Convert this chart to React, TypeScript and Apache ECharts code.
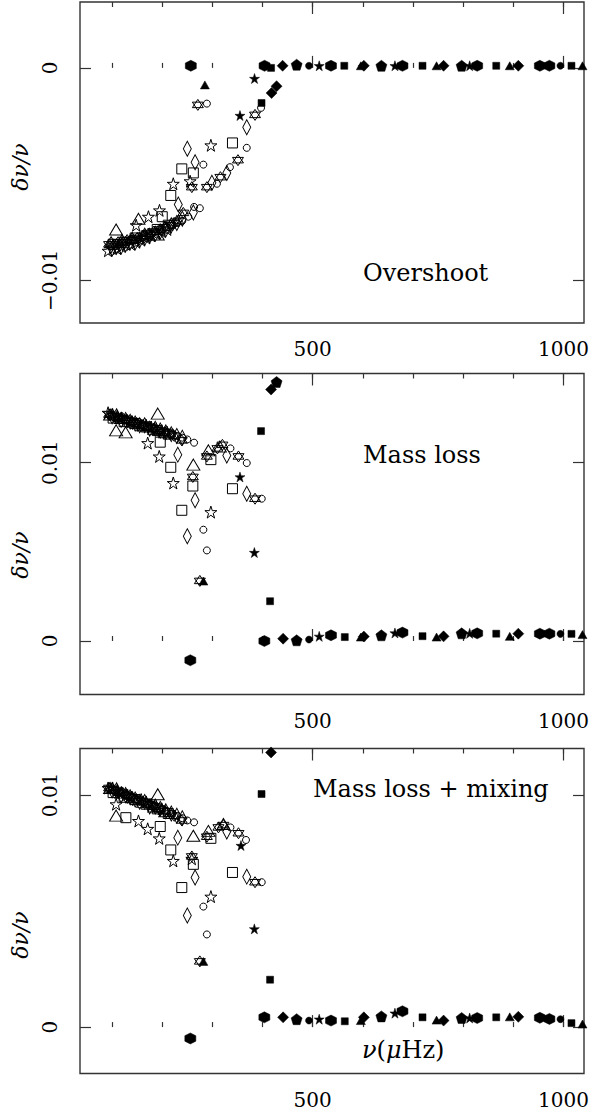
import React, { useEffect, useRef } from 'react';
import * as echarts from 'echarts';

// ---------- axis ticks / labels ----------
const X_MIN = 36;
const X_MAX = 1041;
const X_MINOR_TICKS = [100, 200, 300, 400, 500, 600, 700, 800, 900, 1000];
const X_MAJOR_TICKS = [500, 1000];
const Y_RANGES = [[-0.012, 0.0031], [-0.003, 0.015], [-0.002, 0.012]];
const Y_TICKS = [[-0.01, 0], [0, 0.01], [0, 0.01]];
const PANEL_LABELS = ['Overshoot', 'Mass loss', 'Mass loss + mixing'];

// ---------- Panel 1 : Overshoot ----------
const P1_OPEN_TRIANGLE = [[108, -0.0076], [152.6, -0.0071], [191, -0.00784], [98, -0.0082], [120, -0.0081], [140, -0.008], [165, -0.0078], [205, -0.0075]];
const P1_OPEN_CIRCLE = [[289, -0.00168], [397, -0.00188], [368.5, -0.00376], [282, -0.00455], [335, -0.00467], [309, -0.00545], [263.5, -0.00654], [96, -0.0084], [114, -0.0083], [132, -0.0082], [150, -0.0081], [170, -0.0079], [190, -0.0077], [210, -0.0075], [230, -0.0073], [252, -0.007], [275, -0.0066], [105, -0.0084], [123, -0.0083], [141, -0.0081], [160, -0.008], [180, -0.0078], [200, -0.0076], [220, -0.0074], [240, -0.0072]];
const P1_OPEN_SQUARE = [[340, -0.00353], [239, -0.00475], [262, -0.00494], [217, -0.006], [102, -0.0083], [124, -0.0082], [146, -0.008], [168, -0.0079], [190, -0.0076], [212, -0.0074], [200, -0.007]];
const P1_OPEN_DIAMOND = [[250, -0.0038], [368.5, -0.00279], [265.5, -0.00444], [328.7, -0.00494], [299, -0.0054], [232, -0.00643], [100, -0.0085], [118, -0.0084], [136, -0.0082], [155, -0.0081], [175, -0.0079], [196, -0.0077], [218, -0.0074], [240, -0.0071], [262, -0.0068], [109, -0.0084], [127, -0.0083], [146, -0.0082], [165, -0.008], [186, -0.0078], [207, -0.0076], [229, -0.0073]];
const P1_OPEN_STAR = [[297, -0.00364], [222, -0.00545], [255.6, -0.00533], [194.5, -0.0067], [172.5, -0.007], [92, -0.0086], [110, -0.0085], [128, -0.0083], [148, -0.0082], [168, -0.008], [188, -0.0078], [210, -0.0076], [148, -0.0074], [101, -0.0085], [119, -0.0084], [138, -0.0083], [158, -0.0081], [178, -0.0079], [199, -0.0077]];
const P1_HEXAGRAM = [[271, -0.00174], [385, -0.00221], [351, -0.00434], [259, -0.00561], [289, -0.00561], [316, -0.00514], [242, -0.00682], [94, -0.0083], [112, -0.0082], [130, -0.0081], [150, -0.008], [172, -0.0078], [194, -0.0076], [216, -0.0074], [232, -0.0072], [103, -0.0083], [121, -0.0082], [140, -0.0081], [161, -0.0079], [183, -0.0077], [205, -0.0075], [224, -0.0073]];
const P1_FILLED_HEXAGON = [[257, 0.0001], [404, 0.0001], [536.5, 0.0001], [679, 0.0001], [828, 0.0001], [953, 0.0001], [972, 0.0001]];
const P1_FILLED_TRIANGLE = [[285, -0.0008], [596, 0.0001], [747, 0.0001], [893, 0.0001], [1038, 0.0001]];
const P1_FILLED_STAR = [[384, -0.0005], [355, -0.00224], [513, 0.0001], [664, 0.0001], [813, 0.0001]];
const P1_FILLED_SQUARE = [[398, -0.00165], [417, 0.0], [563, 0.0001], [719, 0.0001], [866, 0.0001], [1016, 0.0001]];
const P1_FILLED_DIAMOND = [[418, -0.00118], [428, -0.00086], [440, 0.0001], [602, 0.0001], [761, 0.0001], [910, 0.0001]];
const P1_FILLED_PENTAGON = [[468, 0.00015], [637, 0.0001], [797, 0.0001]];
const P1_FILLED_CIRCLE = [[492.6, 0.0001], [994, 0.0001]];

// ---------- Panel 2 : Mass loss ----------
const P2_OPEN_TRIANGLE = [[191, 0.01275], [108, 0.01181], [127, 0.0117], [262, 0.00989], [292, 0.01069], [315, 0.0109], [96, 0.0127], [118, 0.0125], [140, 0.0123], [162, 0.0121], [184, 0.0119], [206, 0.0117]];
const P2_OPEN_CIRCLE = [[263.5, 0.01112], [282, 0.00624], [289, 0.00508], [336, 0.0108], [368.5, 0.00998], [398.4, 0.00798], [96, 0.0126], [114, 0.0125], [132, 0.0123], [150, 0.0122], [170, 0.012], [190, 0.0118], [210, 0.0117], [230, 0.0115], [250, 0.0113], [105, 0.0125], [123, 0.0124], [141, 0.0122], [160, 0.0121], [180, 0.0119], [200, 0.0117], [220, 0.0116], [240, 0.0114]];
const P2_OPEN_SQUARE = [[196, 0.01115], [217, 0.00974], [261, 0.00869], [239, 0.00733], [297, 0.01017], [340, 0.00854], [102, 0.0125], [124, 0.0123], [146, 0.0122], [168, 0.012], [190, 0.0118], [212, 0.0116]];
const P2_OPEN_DIAMOND = [[231, 0.01045], [265.5, 0.00789], [250, 0.00587], [328.7, 0.0104], [368.5, 0.00826], [100, 0.0126], [118, 0.0124], [136, 0.0123], [155, 0.0121], [175, 0.0119], [196, 0.0118], [218, 0.0116], [240, 0.0114], [109, 0.0126], [127, 0.0124], [146, 0.0122], [165, 0.0121], [186, 0.0119], [207, 0.0117], [229, 0.0115]];
const P2_OPEN_STAR = [[171, 0.0111], [194, 0.01035], [222, 0.00886], [297, 0.00723], [92, 0.0128], [110, 0.0126], [128, 0.0124], [148, 0.0122], [168, 0.0121], [188, 0.0119], [210, 0.0117], [101, 0.0127], [119, 0.0125], [138, 0.0123], [158, 0.0121], [178, 0.012], [199, 0.0118]];
const P2_HEXAGRAM = [[239, 0.01125], [261, 0.0092], [275, 0.00337], [289, 0.01035], [310, 0.0108], [320, 0.011], [352, 0.01035], [385, 0.00798], [94, 0.0127], [112, 0.0125], [130, 0.0124], [150, 0.0122], [172, 0.012], [194, 0.0118], [216, 0.0116], [103, 0.0126], [121, 0.0125], [140, 0.0123], [161, 0.0121], [183, 0.0119], [205, 0.0117], [224, 0.0115]];
const P2_FILLED_HEXAGON = [[256, -0.00108], [403.6, 0.0], [536.5, 0.00032], [679, 0.00047], [828, 0.00043], [953, 0.00041], [972, 0.00041]];
const P2_FILLED_TRIANGLE = [[282, 0.00336], [596, 0.00022], [747, 0.00022], [893, 0.00026], [1038, 0.00036]];
const P2_FILLED_STAR = [[355, 0.0092], [383.7, 0.00496], [513, 0.00026], [664, 0.00045], [813, 0.00043]];
const P2_FILLED_SQUARE = [[397, 0.01177], [415, 0.00223], [564, 0.00022], [719, 0.00027], [866, 0.00041], [1016, 0.0004]];
const P2_FILLED_DIAMOND = [[417, 0.0141], [441, 0.00013], [602, 0.00025], [761, 0.00026], [910, 0.00041]];
const P2_FILLED_PENTAGON = [[428, 0.01452], [468, 0.00004], [637, 0.00032], [797, 0.00043]];
const P2_FILLED_CIRCLE = [[492.6, 0.00008], [994, 0.0004]];

// ---------- Panel 3 : Mass loss + mixing ----------
const P3_OPEN_TRIANGLE = [[191, 0.01003], [108, 0.00911], [262, 0.00824], [292, 0.00845], [322, 0.00875], [96, 0.0103], [118, 0.0101], [140, 0.0099], [162, 0.0097], [184, 0.0095], [206, 0.0093]];
const P3_OPEN_CIRCLE = [[263.5, 0.00882], [282, 0.00519], [289, 0.00399], [336, 0.0086], [367, 0.00806], [398.4, 0.00624], [96, 0.0102], [114, 0.0101], [132, 0.0099], [150, 0.0098], [170, 0.0096], [190, 0.0094], [210, 0.0093], [230, 0.0091], [250, 0.0089], [105, 0.0102], [123, 0.01], [141, 0.0099], [160, 0.0097], [180, 0.0095], [200, 0.0094], [220, 0.0092], [240, 0.009]];
const P3_OPEN_SQUARE = [[127.5, 0.00902], [196, 0.00864], [217, 0.00763], [262, 0.00701], [239, 0.00601], [297, 0.00813], [340, 0.00666], [102, 0.0101], [124, 0.0099], [146, 0.0098], [168, 0.0096], [190, 0.0094], [212, 0.0092]];
const P3_OPEN_DIAMOND = [[231, 0.00816], [265.5, 0.00644], [250, 0.00481], [328.7, 0.00842], [368.5, 0.00648], [100, 0.0102], [118, 0.01], [136, 0.0099], [155, 0.0097], [175, 0.0095], [196, 0.0094], [218, 0.0092], [240, 0.009], [109, 0.0102], [127, 0.01], [146, 0.0098], [165, 0.0097], [186, 0.0095], [207, 0.0093], [229, 0.0091]];
const P3_OPEN_STAR = [[152.6, 0.00888], [171, 0.00854], [194, 0.00813], [222, 0.00716], [297, 0.00562], [259, 0.00725], [92, 0.0103], [110, 0.0102], [128, 0.01], [148, 0.0098], [168, 0.0097], [188, 0.0095], [108, 0.0096], [101, 0.0103], [119, 0.0101], [138, 0.0099], [158, 0.0098], [178, 0.0096], [199, 0.0094]];
const P3_HEXAGRAM = [[239, 0.0089], [259, 0.00735], [275, 0.00283], [289, 0.0082], [312, 0.0086], [322, 0.0087], [352, 0.00835], [385, 0.00624], [94, 0.0103], [112, 0.0101], [130, 0.01], [150, 0.0098], [172, 0.0096], [194, 0.0094], [216, 0.0092], [103, 0.0102], [121, 0.0101], [140, 0.0099], [161, 0.0097], [183, 0.0095], [205, 0.0093], [224, 0.0091]];
const P3_FILLED_HEXAGON = [[256, -0.00049], [403.6, 0.00042], [536.5, 0.00028], [679, 0.00068], [828, 0.00039], [953, 0.0004], [972, 0.00035]];
const P3_FILLED_TRIANGLE = [[282, 0.00283], [596, 0.00028], [747, 0.0003], [893, 0.00044], [1038, 0.00013]];
const P3_FILLED_STAR = [[357, 0.00782], [383.7, 0.00423], [513, 0.00034], [664, 0.0006], [813, 0.00039]];
const P3_FILLED_SQUARE = [[398, 0.01004], [415, 0.00204], [564, 0.00025], [719, 0.00042], [866, 0.00042], [1016, 0.00017]];
const P3_FILLED_DIAMOND = [[417, 0.01183], [441, 0.00042], [602, 0.00042], [761, 0.00028], [910, 0.00044]];
const P3_FILLED_PENTAGON = [[468, 0.00034], [637, 0.00046], [797, 0.00039]];
const P3_FILLED_CIRCLE = [[492.6, 0.00028], [994, 0.00034]];

// ---------- marker symbols ----------
const STAR5 = 'path://M0,-10L2.245,-3.09L9.511,-3.09L3.633,1.18L5.878,8.09L0,3.82L-5.878,8.09L-3.633,1.18L-9.511,-3.09L-2.245,-3.09Z';
const HEXAGRAM = 'path://M0,-10L8.66,5L-8.66,5Z M0,10L8.66,-5L-8.66,-5Z';
const HEXAGON = 'path://M0,-10L8.66,-5L8.66,5L0,10L-8.66,5L-8.66,-5Z';
const PENTAGON = 'path://M0,-10L9.511,-3.09L5.878,8.09L-5.878,8.09L-9.511,-3.09Z';

const MARKERS = [
  { key: 'openTriangle', symbol: 'triangle', size: [13, 11], filled: false },
  { key: 'openCircle', symbol: 'circle', size: 7, filled: false },
  { key: 'openSquare', symbol: 'rect', size: 10, filled: false },
  { key: 'openDiamond', symbol: 'diamond', size: [8, 15], filled: false },
  { key: 'openStar', symbol: STAR5, size: 12, filled: false },
  { key: 'hexagram', symbol: HEXAGRAM, size: 11, filled: false },
  { key: 'filledHexagon', symbol: HEXAGON, size: 11, filled: true },
  { key: 'filledTriangle', symbol: 'triangle', size: [9, 8], filled: true },
  { key: 'filledStar', symbol: STAR5, size: 10, filled: true },
  { key: 'filledSquare', symbol: 'rect', size: 7, filled: true },
  { key: 'filledDiamond', symbol: 'diamond', size: 11, filled: true },
  { key: 'filledPentagon', symbol: PENTAGON, size: 11, filled: true },
  { key: 'filledCircle', symbol: 'circle', size: 7, filled: true },
];

const PANEL_DATA = [
  {
    openTriangle: P1_OPEN_TRIANGLE, openCircle: P1_OPEN_CIRCLE, openSquare: P1_OPEN_SQUARE,
    openDiamond: P1_OPEN_DIAMOND, openStar: P1_OPEN_STAR, hexagram: P1_HEXAGRAM,
    filledHexagon: P1_FILLED_HEXAGON, filledTriangle: P1_FILLED_TRIANGLE, filledStar: P1_FILLED_STAR,
    filledSquare: P1_FILLED_SQUARE, filledDiamond: P1_FILLED_DIAMOND, filledPentagon: P1_FILLED_PENTAGON,
    filledCircle: P1_FILLED_CIRCLE,
  },
  {
    openTriangle: P2_OPEN_TRIANGLE, openCircle: P2_OPEN_CIRCLE, openSquare: P2_OPEN_SQUARE,
    openDiamond: P2_OPEN_DIAMOND, openStar: P2_OPEN_STAR, hexagram: P2_HEXAGRAM,
    filledHexagon: P2_FILLED_HEXAGON, filledTriangle: P2_FILLED_TRIANGLE, filledStar: P2_FILLED_STAR,
    filledSquare: P2_FILLED_SQUARE, filledDiamond: P2_FILLED_DIAMOND, filledPentagon: P2_FILLED_PENTAGON,
    filledCircle: P2_FILLED_CIRCLE,
  },
  {
    openTriangle: P3_OPEN_TRIANGLE, openCircle: P3_OPEN_CIRCLE, openSquare: P3_OPEN_SQUARE,
    openDiamond: P3_OPEN_DIAMOND, openStar: P3_OPEN_STAR, hexagram: P3_HEXAGRAM,
    filledHexagon: P3_FILLED_HEXAGON, filledTriangle: P3_FILLED_TRIANGLE, filledStar: P3_FILLED_STAR,
    filledSquare: P3_FILLED_SQUARE, filledDiamond: P3_FILLED_DIAMOND, filledPentagon: P3_FILLED_PENTAGON,
    filledCircle: P3_FILLED_CIRCLE,
  },
];

// ---------- layout ----------
const GRIDS = [
  { left: 80, top: 2, width: 504, height: 321 },
  { left: 80, top: 373.5, width: 504, height: 321 },
  { left: 80, top: 748.5, width: 504, height: 325 },
];
const FONT = '"DejaVu Serif", "Liberation Serif", serif';
const AXIS_COLOR = '#333';

function fmtY(v: number): string {
  if (Math.abs(v) < 1e-12) return '0';
  const s = Math.abs(v).toString();
  return (v < 0 ? '\u2212' : '') + s;
}

function buildOption() {
  const grid: any[] = [];
  const xAxis: any[] = [];
  const yAxis: any[] = [];
  const series: any[] = [];
  const tickLine = { color: AXIS_COLOR, width: 1.2 };

  GRIDS.forEach((g, i) => {
    grid.push({ ...g, show: true, borderColor: AXIS_COLOR, borderWidth: 1.4, backgroundColor: 'transparent' });
    const baseX = { gridIndex: i, type: 'value', min: X_MIN, max: X_MAX, axisLine: { show: false }, splitLine: { show: false } };
    xAxis.push({
      ...baseX, position: 'bottom',
      axisTick: { show: true, inside: true, length: 5, customValues: X_MINOR_TICKS, lineStyle: tickLine },
      axisLabel: { show: true, customValues: X_MAJOR_TICKS, margin: 16, fontSize: 20, fontFamily: FONT, color: '#000', formatter: (v: number) => String(v) },
    });
    xAxis.push({
      ...baseX, position: 'bottom',
      axisTick: { show: true, inside: true, length: 12, customValues: X_MAJOR_TICKS, lineStyle: tickLine },
      axisLabel: { show: false },
    });
    xAxis.push({
      ...baseX, position: 'top',
      axisTick: { show: true, inside: true, length: 5, customValues: X_MINOR_TICKS, lineStyle: tickLine },
      axisLabel: { show: false },
    });
    xAxis.push({
      ...baseX, position: 'top',
      axisTick: { show: true, inside: true, length: 12, customValues: X_MAJOR_TICKS, lineStyle: tickLine },
      axisLabel: { show: false },
    });
    const baseY = { gridIndex: i, type: 'value', min: Y_RANGES[i][0], max: Y_RANGES[i][1], axisLine: { show: false }, splitLine: { show: false } };
    yAxis.push({
      ...baseY, position: 'left',
      axisTick: { show: true, inside: true, length: 11, customValues: Y_TICKS[i], lineStyle: tickLine },
      axisLabel: { show: true, customValues: Y_TICKS[i], rotate: 90, margin: 20, fontSize: 20, fontFamily: FONT, color: '#000', formatter: (v: number) => fmtY(v) },
    });
    yAxis.push({
      ...baseY, position: 'right',
      axisTick: { show: true, inside: true, length: 11, customValues: Y_TICKS[i], lineStyle: tickLine },
      axisLabel: { show: false },
    });

    const pd: any = PANEL_DATA[i];
    MARKERS.forEach((m) => {
      series.push({
        type: 'scatter',
        name: m.key + '_' + i,
        xAxisIndex: i * 4,
        yAxisIndex: i * 2,
        data: pd[m.key],
        symbol: m.symbol,
        symbolSize: m.size,
        silent: true,
        z: m.filled ? 4 : 3,
        itemStyle: m.filled
          ? { color: '#000', borderColor: '#000', borderWidth: 0.5, opacity: 1 }
          : { color: 'rgba(0,0,0,0)', borderColor: '#000', borderWidth: 1, opacity: 1 },
        emphasis: { disabled: true },
      });
    });
  });

  const textStyle = { fontFamily: FONT, fontSize: 24, fill: '#000' };
  const graphic: any[] = [
    { type: 'text', x: 363, y: 273, style: { ...textStyle, text: PANEL_LABELS[0], verticalAlign: 'middle', align: 'left' } },
    { type: 'text', x: 363, y: 455, style: { ...textStyle, text: PANEL_LABELS[1], verticalAlign: 'middle', align: 'left' } },
    { type: 'text', x: 313, y: 789, style: { ...textStyle, text: PANEL_LABELS[2], verticalAlign: 'middle', align: 'left' } },
    {
      type: 'text', x: 362, y: 1050,
      style: {
        text: '{i|\u03bd}({i|\u03bc}Hz)', fontFamily: FONT, fontSize: 24, fill: '#000', verticalAlign: 'middle', align: 'left',
        rich: { i: { fontStyle: 'italic', fontFamily: FONT, fontSize: 24 } },
      },
    },
    { type: 'text', x: 20, y: 167, rotation: Math.PI / 2, style: { text: '\u03b4\u03bd/\u03bd', fontFamily: FONT, fontStyle: 'italic', fontSize: 22, fill: '#000', align: 'center', verticalAlign: 'middle' } },
    { type: 'text', x: 20, y: 555, rotation: Math.PI / 2, style: { text: '\u03b4\u03bd/\u03bd', fontFamily: FONT, fontStyle: 'italic', fontSize: 22, fill: '#000', align: 'center', verticalAlign: 'middle' } },
    { type: 'text', x: 20, y: 935, rotation: Math.PI / 2, style: { text: '\u03b4\u03bd/\u03bd', fontFamily: FONT, fontStyle: 'italic', fontSize: 22, fill: '#000', align: 'center', verticalAlign: 'middle' } },
  ];

  return { animation: false, backgroundColor: '#fff', grid, xAxis, yAxis, series, graphic };
}

export default function App() {
  const ref = useRef<HTMLDivElement>(null);
  useEffect(() => {
    document.body.style.margin = '0';
    if (!ref.current) return;
    const chart = echarts.init(ref.current, null, { renderer: 'svg' });
    chart.setOption(buildOption() as any);
    return () => chart.dispose();
  }, []);
  return <div ref={ref} style={{ width: 595, height: 1112 }} />;
}
